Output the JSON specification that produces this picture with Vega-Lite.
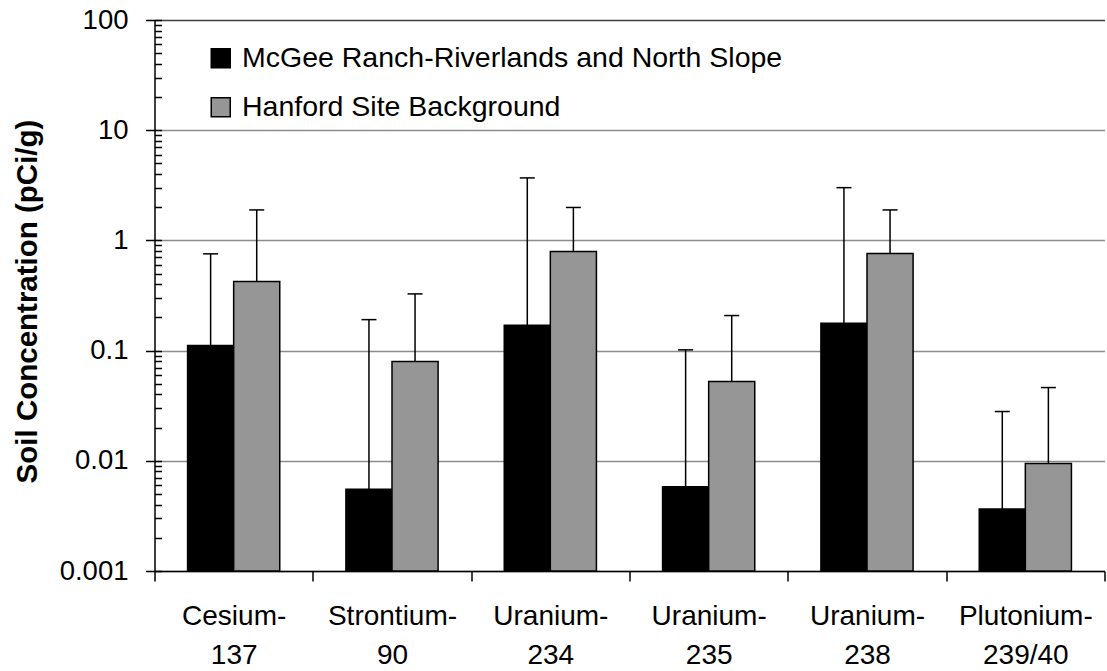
{
  "$schema": "https://vega.github.io/schema/vega-lite/v6.json",
  "autosize": {"type": "none"},
  "width": 950,
  "height": 551,
  "padding": {"left": 154.5, "top": 20, "right": 2.5, "bottom": 100},
  "background": "white",
  "config": {
    "font": "Liberation Sans",
    "view": {"stroke": null},
    "axis": {"labelColor": "black", "titleColor": "black", "domainColor": "black", "tickColor": "black", "domainWidth": 1.5, "tickWidth": 1.5}
  },
  "data": {
    "values": [
      {"cat": "Cesium-137", "series": "McGee Ranch-Riverlands and North Slope", "value": 0.111, "err": 0.755},
      {"cat": "Cesium-137", "series": "Hanford Site Background", "value": 0.423, "err": 1.89},
      {"cat": "Strontium-90", "series": "McGee Ranch-Riverlands and North Slope", "value": 0.00553, "err": 0.191},
      {"cat": "Strontium-90", "series": "Hanford Site Background", "value": 0.0796, "err": 0.327},
      {"cat": "Uranium-234", "series": "McGee Ranch-Riverlands and North Slope", "value": 0.170, "err": 3.69},
      {"cat": "Uranium-234", "series": "Hanford Site Background", "value": 0.792, "err": 1.99},
      {"cat": "Uranium-235", "series": "McGee Ranch-Riverlands and North Slope", "value": 0.00581, "err": 0.1016},
      {"cat": "Uranium-235", "series": "Hanford Site Background", "value": 0.0525, "err": 0.208},
      {"cat": "Uranium-238", "series": "McGee Ranch-Riverlands and North Slope", "value": 0.177, "err": 3.01},
      {"cat": "Uranium-238", "series": "Hanford Site Background", "value": 0.759, "err": 1.89},
      {"cat": "Plutonium-239/40", "series": "McGee Ranch-Riverlands and North Slope", "value": 0.00365, "err": 0.028},
      {"cat": "Plutonium-239/40", "series": "Hanford Site Background", "value": 0.00946, "err": 0.0462}
    ]
  },
  "encoding": {
    "x": {
      "field": "cat", "type": "nominal", "sort": null,
      "scale": {"paddingInner": 0, "paddingOuter": 0},
      "axis": {
        "title": null, "labelAngle": 0, "tickBand": "extent", "grid": false,
        "tickSize": 10, "labelFontSize": 28, "labelPadding": 21, "labelLineHeight": 39,
        "labelExpr": "isValid(datum.value) ? [split(datum.value,'-')[0] + '-', split(datum.value,'-')[1]] : ''"
      }
    },
    "xOffset": {
      "field": "series", "type": "nominal",
      "sort": ["McGee Ranch-Riverlands and North Slope", "Hanford Site Background"],
      "scale": {"paddingInner": 0, "paddingOuter": 0.7175}
    }
  },
  "layer": [
    {
      "mark": {"type": "bar", "stroke": "black", "strokeWidth": 1.5},
      "encoding": {
        "y": {
          "field": "value", "type": "quantitative",
          "scale": {"type": "log", "domain": [0.001, 100], "nice": false},
          "axis": {
            "title": "Soil Concentration (pCi/g)",
            "titleFontSize": 29.5, "titleFontWeight": "bold",
            "titleX": -127, "titleY": 281, "titleAngle": -90, "titleBaseline": "middle", "titleAlign": "center",
            "values": [0.001, 0.01, 0.1, 1, 10, 100],
            "format": ".3~f",
            "labelFontSize": 27.5, "tickSize": 9, "labelPadding": 17.5,
            "grid": true, "gridWidth": 1.5,
            "gridColor": {"condition": {"test": "datum.value === 100", "value": "#404040"}, "value": "#8c8c8c"}
          }
        },
        "y2": {"datum": 0.001},
        "color": {
          "field": "series", "type": "nominal",
          "scale": {"domain": ["McGee Ranch-Riverlands and North Slope", "Hanford Site Background"], "range": ["#000000", "#969696"]},
          "legend": {
            "title": null, "orient": "none", "legendX": 52, "legendY": 24,
            "labelFontSize": 28.5, "labelColor": "black", "labelLimit": 0, "symbolType": "square", "symbolSize": 361,
            "symbolStrokeColor": "black", "symbolStrokeWidth": 1.5, "symbolOpacity": 1,
            "labelOffset": 7, "rowPadding": 20, "padding": 0
          }
        }
      }
    },
    {
      "mark": {"type": "rule", "color": "black", "strokeWidth": 1.5},
      "encoding": {
        "y": {
          "field": "value", "type": "quantitative",
          "axis": {
            "title": null, "labels": false, "domain": false, "grid": false, "tickSize": -7,
            "values": [0.001, 0.002, 0.003, 0.004, 0.005, 0.006, 0.007, 0.008, 0.009,
                       0.01, 0.02, 0.03, 0.04, 0.05, 0.06, 0.07, 0.08, 0.09,
                       0.1, 0.2, 0.3, 0.4, 0.5, 0.6, 0.7, 0.8, 0.9,
                       1, 2, 3, 4, 5, 6, 7, 8, 9,
                       10, 20, 30, 40, 50, 60, 70, 80, 90, 100],
            "orient": "left"
          }
        },
        "y2": {"field": "err"}
      }
    },
    {
      "mark": {"type": "point", "shape": "M -1 0 L 1 0", "size": 225, "filled": false, "stroke": "black", "strokeWidth": 1.5, "opacity": 1},
      "encoding": {
        "y": {"field": "err", "type": "quantitative", "axis": null}
      }
    }
  ],
  "resolve": {"axis": {"y": "independent"}}
}
